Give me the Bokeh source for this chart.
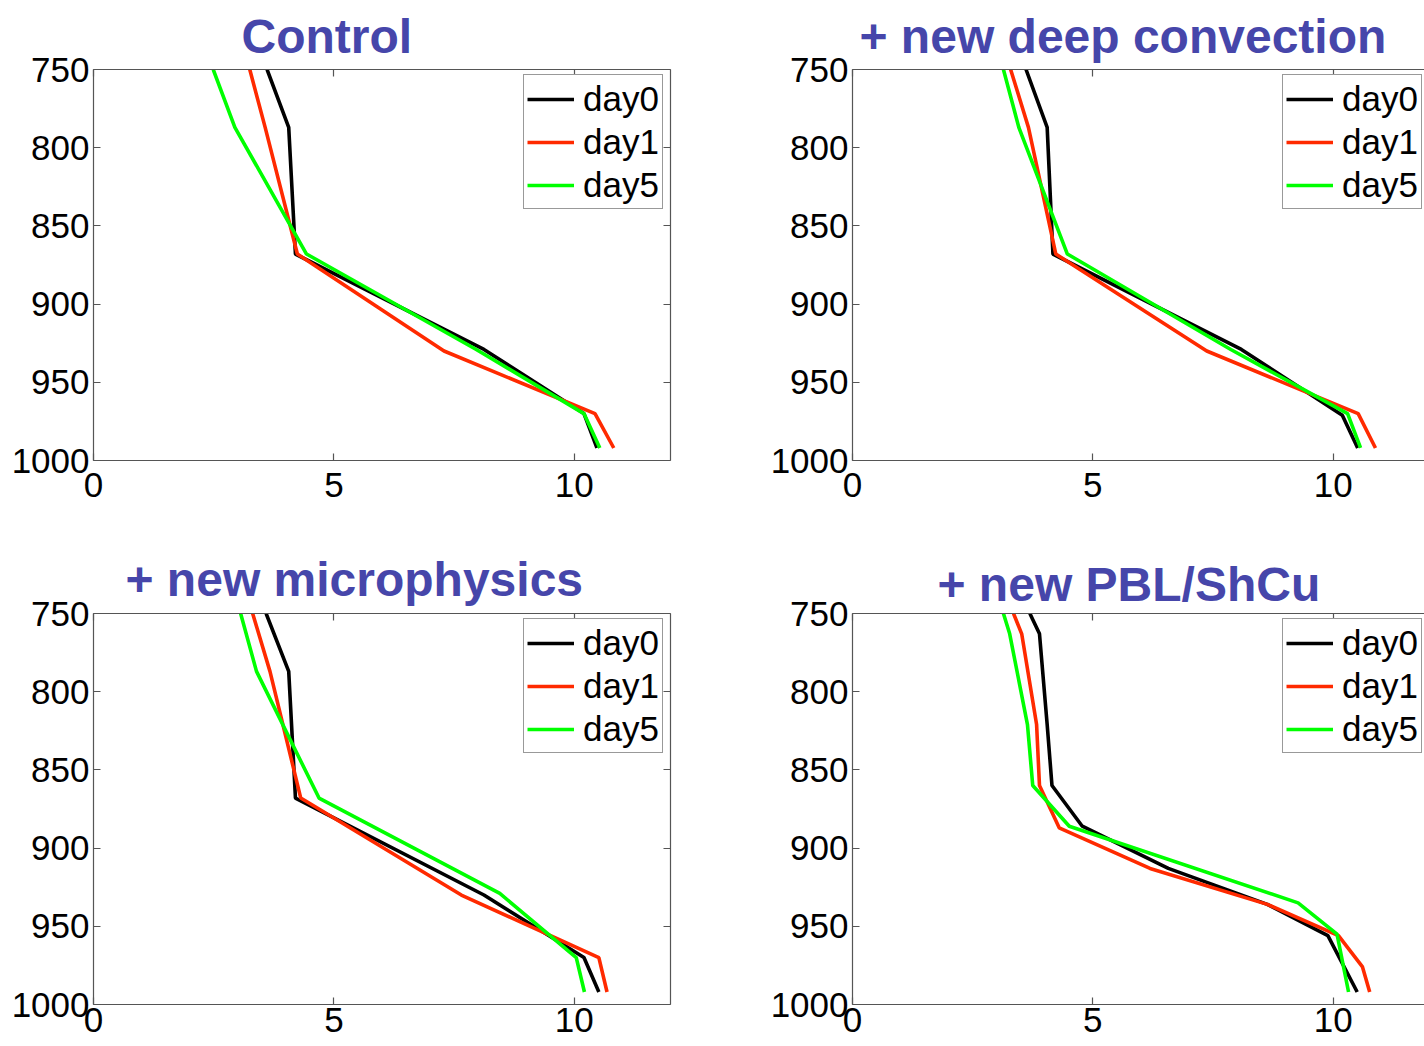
from bokeh.plotting import figure
from bokeh.models import Range1d, LinearAxis, FixedTicker, Legend, LegendItem, Title
from bokeh.layouts import row, column
from bokeh.embed import file_html
from bokeh.resources import INLINE

# ---- axes ---------------------------------------------------------------
P_TICKS = [750, 800, 850, 900, 950, 1000]
X_TICKS = [0, 5, 10]
DAYS = ["day0", "day1", "day5"]
COLORS = ["#000000", "#FF2A00", "#00FF00"]

# ---- Control ------------------------------------------------------------
ctrl_day0_x = [3.61, 4.06, 4.20, 8.12, 10.20, 10.47]
ctrl_day0_p = [750, 787, 868, 929, 970, 992]
ctrl_day1_x = [3.25, 3.57, 4.24, 7.29, 10.43, 10.82]
ctrl_day1_p = [750, 787, 868, 930, 970, 992]
ctrl_day5_x = [2.49, 2.94, 4.43, 7.96, 10.20, 10.53]
ctrl_day5_p = [750, 787, 868, 929, 970, 992]

# ---- + new deep convection ----------------------------------------------
conv_day0_x = [3.61, 4.05, 4.17, 8.09, 10.19, 10.51]
conv_day0_p = [750, 787, 868, 929, 971, 992]
conv_day1_x = [3.29, 3.66, 4.23, 7.37, 10.52, 10.88]
conv_day1_p = [750, 787, 868, 930, 970, 992]
conv_day5_x = [3.14, 3.46, 4.47, 7.87, 10.30, 10.57]
conv_day5_p = [750, 787, 868, 929, 970, 992]

# ---- + new microphysics -------------------------------------------------
micro_day0_x = [3.59, 4.06, 4.20, 8.12, 10.20, 10.51]
micro_day0_p = [750, 787, 868, 930, 970, 992]
micro_day1_x = [3.31, 3.67, 4.31, 7.65, 10.51, 10.68]
micro_day1_p = [750, 787, 868, 930, 970, 992]
micro_day5_x = [3.06, 3.39, 4.69, 8.45, 10.04, 10.21]
micro_day5_p = [750, 787, 868, 929, 970, 992]

# ---- + new PBL/ShCu -----------------------------------------------------
pbl_day0_x = [3.69, 3.89, 4.05, 4.15, 4.78, 6.57, 8.63, 9.89, 10.50]
pbl_day0_p = [750, 763, 821, 860, 886, 913, 936, 956, 992]
pbl_day1_x = [3.35, 3.52, 3.83, 3.89, 4.30, 6.19, 8.63, 10.11, 10.61, 10.76]
pbl_day1_p = [750, 763, 821, 860, 887, 913, 936, 956, 976, 992]
pbl_day5_x = [3.14, 3.27, 3.64, 3.75, 4.51, 9.27, 10.08, 10.32]
pbl_day5_p = [750, 763, 821, 860, 886, 935, 955, 992]

TITLE_COLOR = "#4646AA"
FRAME_COLOR = "#555555"
FONT = "Liberation Sans"


def frame_axis(ticks, labels, standoff=4):
    ax = LinearAxis(ticker=FixedTicker(ticks=ticks))
    ax.axis_line_color = FRAME_COLOR
    ax.axis_line_width = 1.2
    ax.major_tick_line_color = FRAME_COLOR
    ax.major_tick_line_width = 1.2
    ax.major_tick_in = 7
    ax.major_tick_out = 0
    ax.minor_tick_line_color = None
    ax.major_label_text_font = FONT
    ax.major_label_text_color = "#000000"
    if labels:
        ax.major_label_text_font_size = "35px"
        ax.major_label_standoff = standoff
    else:
        # tick marks only
        ax.major_label_overrides = {t: " " for t in ticks}
        ax.major_label_text_font_size = "1px"
        ax.major_label_text_alpha = 0
        ax.major_label_standoff = 0
    return ax


def panel(title, xs, ps, width, height, top, bottom, right, x_end,
          t_offset, t_standoff, x_label_standoff, right_axis):
    t = Title(text=title, align="left", vertical_align="bottom",
              offset=t_offset, standoff=t_standoff,
              text_font=FONT, text_font_style="bold", text_font_size="48px",
              text_color=TITLE_COLOR)
    p = figure(width=width, height=height, title=t,
               x_range=Range1d(0, x_end), y_range=Range1d(1000, 750),
               x_axis_location=None, y_axis_location=None,
               output_backend="svg", toolbar_location=None,
               min_border_left=93, min_border_right=right,
               min_border_top=top, min_border_bottom=bottom)
    p.outline_line_color = None
    p.grid.visible = False
    p.background_fill_color = "white"
    p.border_fill_color = "white"

    p.add_layout(frame_axis(P_TICKS, True, 4), "left")
    p.add_layout(frame_axis(X_TICKS, True, x_label_standoff), "below")
    p.add_layout(frame_axis(X_TICKS, False), "above")
    if right_axis:
        p.add_layout(frame_axis(P_TICKS, False), "right")

    items = []
    for name, color, x, pr in zip(DAYS, COLORS, xs, ps):
        r = p.line(x, pr, line_color=color, line_width=3.6)
        items.append(LegendItem(label=name, renderers=[r]))

    legend = Legend(items=items, location=(430, 251),
                    label_text_font=FONT, label_text_font_size="35px",
                    label_text_color="#000000",
                    glyph_width=47, glyph_height=30, label_height=41,
                    label_standoff=9, spacing=2, padding=3, margin=0,
                    border_line_color="#333333", border_line_width=1.2,
                    background_fill_color="white", background_fill_alpha=1)
    p.add_layout(legend)
    return p


p1 = panel("Control",
           [ctrl_day0_x, ctrl_day1_x, ctrl_day5_x],
           [ctrl_day0_p, ctrl_day1_p, ctrl_day5_p],
           759, 541, 69, 81, 89, 12, 148, 13, 12, True)
p2 = panel("+ new deep convection",
           [conv_day0_x, conv_day1_x, conv_day5_x],
           [conv_day0_p, conv_day1_p, conv_day5_p],
           665, 541, 69, 81, 0, 11.9, 7, 13, 12, False)
p3 = panel("+ new microphysics",
           [micro_day0_x, micro_day1_x, micro_day5_x],
           [micro_day0_p, micro_day1_p, micro_day5_p],
           759, 505, 72, 42, 89, 12, 32, 16, 3, True)
p4 = panel("+ new PBL/ShCu",
           [pbl_day0_x, pbl_day1_x, pbl_day5_x],
           [pbl_day0_p, pbl_day1_p, pbl_day5_p],
           665, 505, 72, 42, 0, 11.9, 85, 6, 3, False)

layout = column(row(p1, p2, spacing=0), row(p3, p4, spacing=0), spacing=0)

with open("out.html", "w") as f:
    f.write(file_html(layout, INLINE))
